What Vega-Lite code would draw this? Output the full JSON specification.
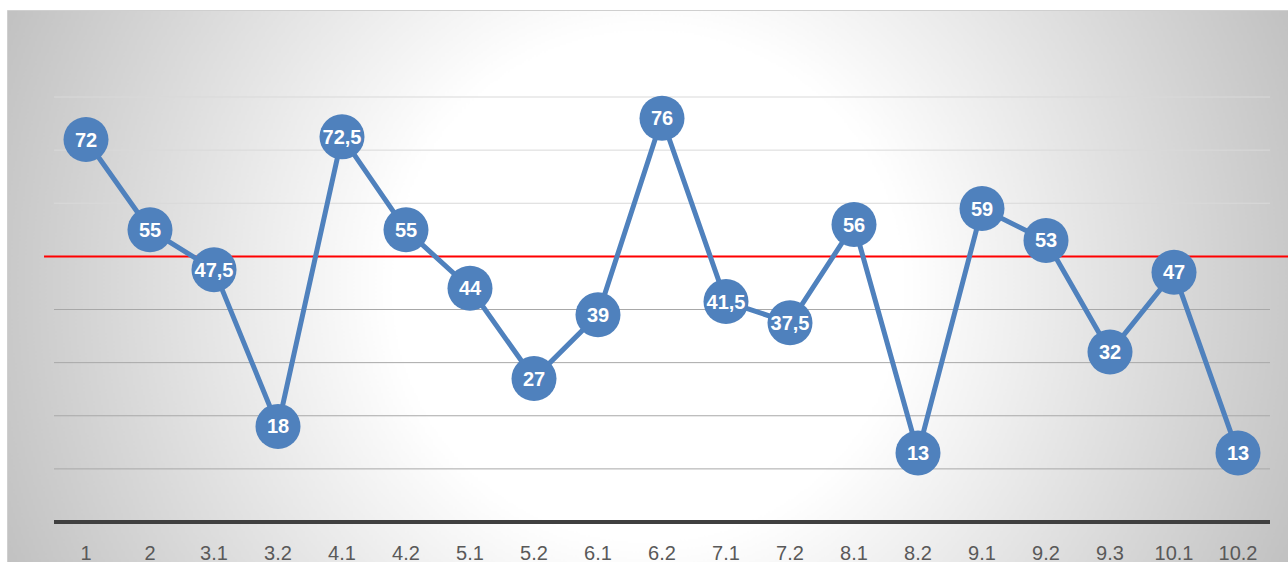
{
  "$schema": "https://vega.github.io/schema/vega-lite/v6.json",
  "width": 1281,
  "height": 552,
  "autosize": "none",
  "padding": {"left": 7, "top": 10, "right": 0, "bottom": 0},
  "background": "#ffffff",
  "config": {
    "locale": {"number": {"decimal": ",", "thousands": ".", "grouping": [3], "currency": ["", " €"]}},
    "view": {
      "stroke": "#cfcfcf",
      "fill": {
        "gradient": "radial",
        "x1": 0.5, "y1": 0.5, "r1": 0,
        "x2": 0.5, "y2": 0.5, "r2": 0.55,
        "stops": [
          {"offset": 0, "color": "#ffffff"},
          {"offset": 0.36, "color": "#ffffff"},
          {"offset": 1, "color": "#c0c0c0"}
        ]
      }
    }
  },
  "datasets": {
    "main": [
      {"cat": "1", "value": 72},
      {"cat": "2", "value": 55},
      {"cat": "3.1", "value": 47.5},
      {"cat": "3.2", "value": 18},
      {"cat": "4.1", "value": 72.5},
      {"cat": "4.2", "value": 55},
      {"cat": "5.1", "value": 44},
      {"cat": "5.2", "value": 27},
      {"cat": "6.1", "value": 39},
      {"cat": "6.2", "value": 76},
      {"cat": "7.1", "value": 41.5},
      {"cat": "7.2", "value": 37.5},
      {"cat": "8.1", "value": 56},
      {"cat": "8.2", "value": 13},
      {"cat": "9.1", "value": 59},
      {"cat": "9.2", "value": 53},
      {"cat": "9.3", "value": 32},
      {"cat": "10.1", "value": 47},
      {"cat": "10.2", "value": 13}
    ],
    "grid": [
      {"g": 10}, {"g": 20}, {"g": 30}, {"g": 40},
      {"g": 50}, {"g": 60}, {"g": 70}, {"g": 80}
    ]
  },
  "layer": [
    {
      "layer": [
        {
          "data": {"name": "grid"},
          "transform": [{"filter": "datum.g <= 40"}],
          "mark": {"type": "rule", "color": "#a8a8a8", "strokeWidth": 1},
          "encoding": {
            "y": {"field": "g", "type": "quantitative", "axis": null},
            "x": {"datum": 0, "type": "quantitative", "scale": {"domain": [0, 1], "range": [47, 1263], "nice": false, "zero": false}, "axis": null},
            "x2": {"datum": 1}
          }
        },
        {
          "data": {"name": "grid"},
          "transform": [{"filter": "datum.g > 40"}],
          "mark": {"type": "rule", "color": "#d9d9d9", "strokeWidth": 1},
          "encoding": {
            "y": {"field": "g", "type": "quantitative", "axis": null},
            "x": {"datum": 0, "type": "quantitative", "axis": null},
            "x2": {"datum": 1}
          }
        },
        {
          "data": {"values": [{"b": 0}]},
          "mark": {"type": "rule", "color": "#404040", "strokeWidth": 4},
          "encoding": {
            "y": {"field": "b", "type": "quantitative", "axis": null},
            "x": {"datum": 0, "type": "quantitative", "axis": null},
            "x2": {"datum": 1}
          }
        },
        {
          "data": {"values": [{"r": 50}]},
          "mark": {"type": "rule", "color": "#ff0000", "strokeWidth": 2},
          "encoding": {
            "y": {"field": "r", "type": "quantitative", "axis": null},
            "x": {"datum": -0.0082, "type": "quantitative", "axis": null},
            "x2": {"datum": 1.03}
          }
        }
      ]
    },
    {
      "layer": [
        {
          "data": {"name": "main"},
          "mark": {"type": "line", "color": "#4f81bd", "strokeWidth": 5},
          "encoding": {
            "x": {
              "field": "cat",
              "type": "nominal",
              "sort": null,
              "scale": {
                "type": "band",
                "range": [47, 1263],
                "paddingInner": 0,
                "paddingOuter": 0
              },
              "axis": {
                "orient": "bottom",
                "offset": -40,
                "domain": false,
                "ticks": false,
                "grid": false,
                "title": null,
                "labelAngle": 0,
                "labelFont": "Liberation Sans",
                "labelFontSize": 20,
                "labelColor": "#595959",
                "labelPadding": 21
              }
            },
            "y": {
              "field": "value",
              "type": "quantitative",
              "axis": null
            }
          }
        },
        {
          "data": {"name": "main"},
          "mark": {"type": "point", "shape": "circle", "filled": true, "size": 2025, "color": "#4f81bd", "opacity": 1},
          "encoding": {
            "x": {"field": "cat", "type": "nominal", "sort": null},
            "y": {"field": "value", "type": "quantitative", "axis": null}
          }
        },
        {
          "data": {"name": "main"},
          "mark": {"type": "text", "color": "#ffffff", "font": "Liberation Sans", "fontSize": 20, "fontWeight": "bold", "align": "center", "baseline": "middle", "dy": 1},
          "encoding": {
            "x": {"field": "cat", "type": "nominal", "sort": null},
            "y": {"field": "value", "type": "quantitative", "axis": null},
            "text": {"field": "value", "type": "quantitative", "format": "~g"}
          }
        }
      ]
    }
  ],
  "resolve": {"scale": {"x": "independent"}, "axis": {"x": "independent"}},
  "encoding": {
    "y": {"scale": {"domain": [-7.53, 96.38], "nice": false, "zero": false}}
  }
}
